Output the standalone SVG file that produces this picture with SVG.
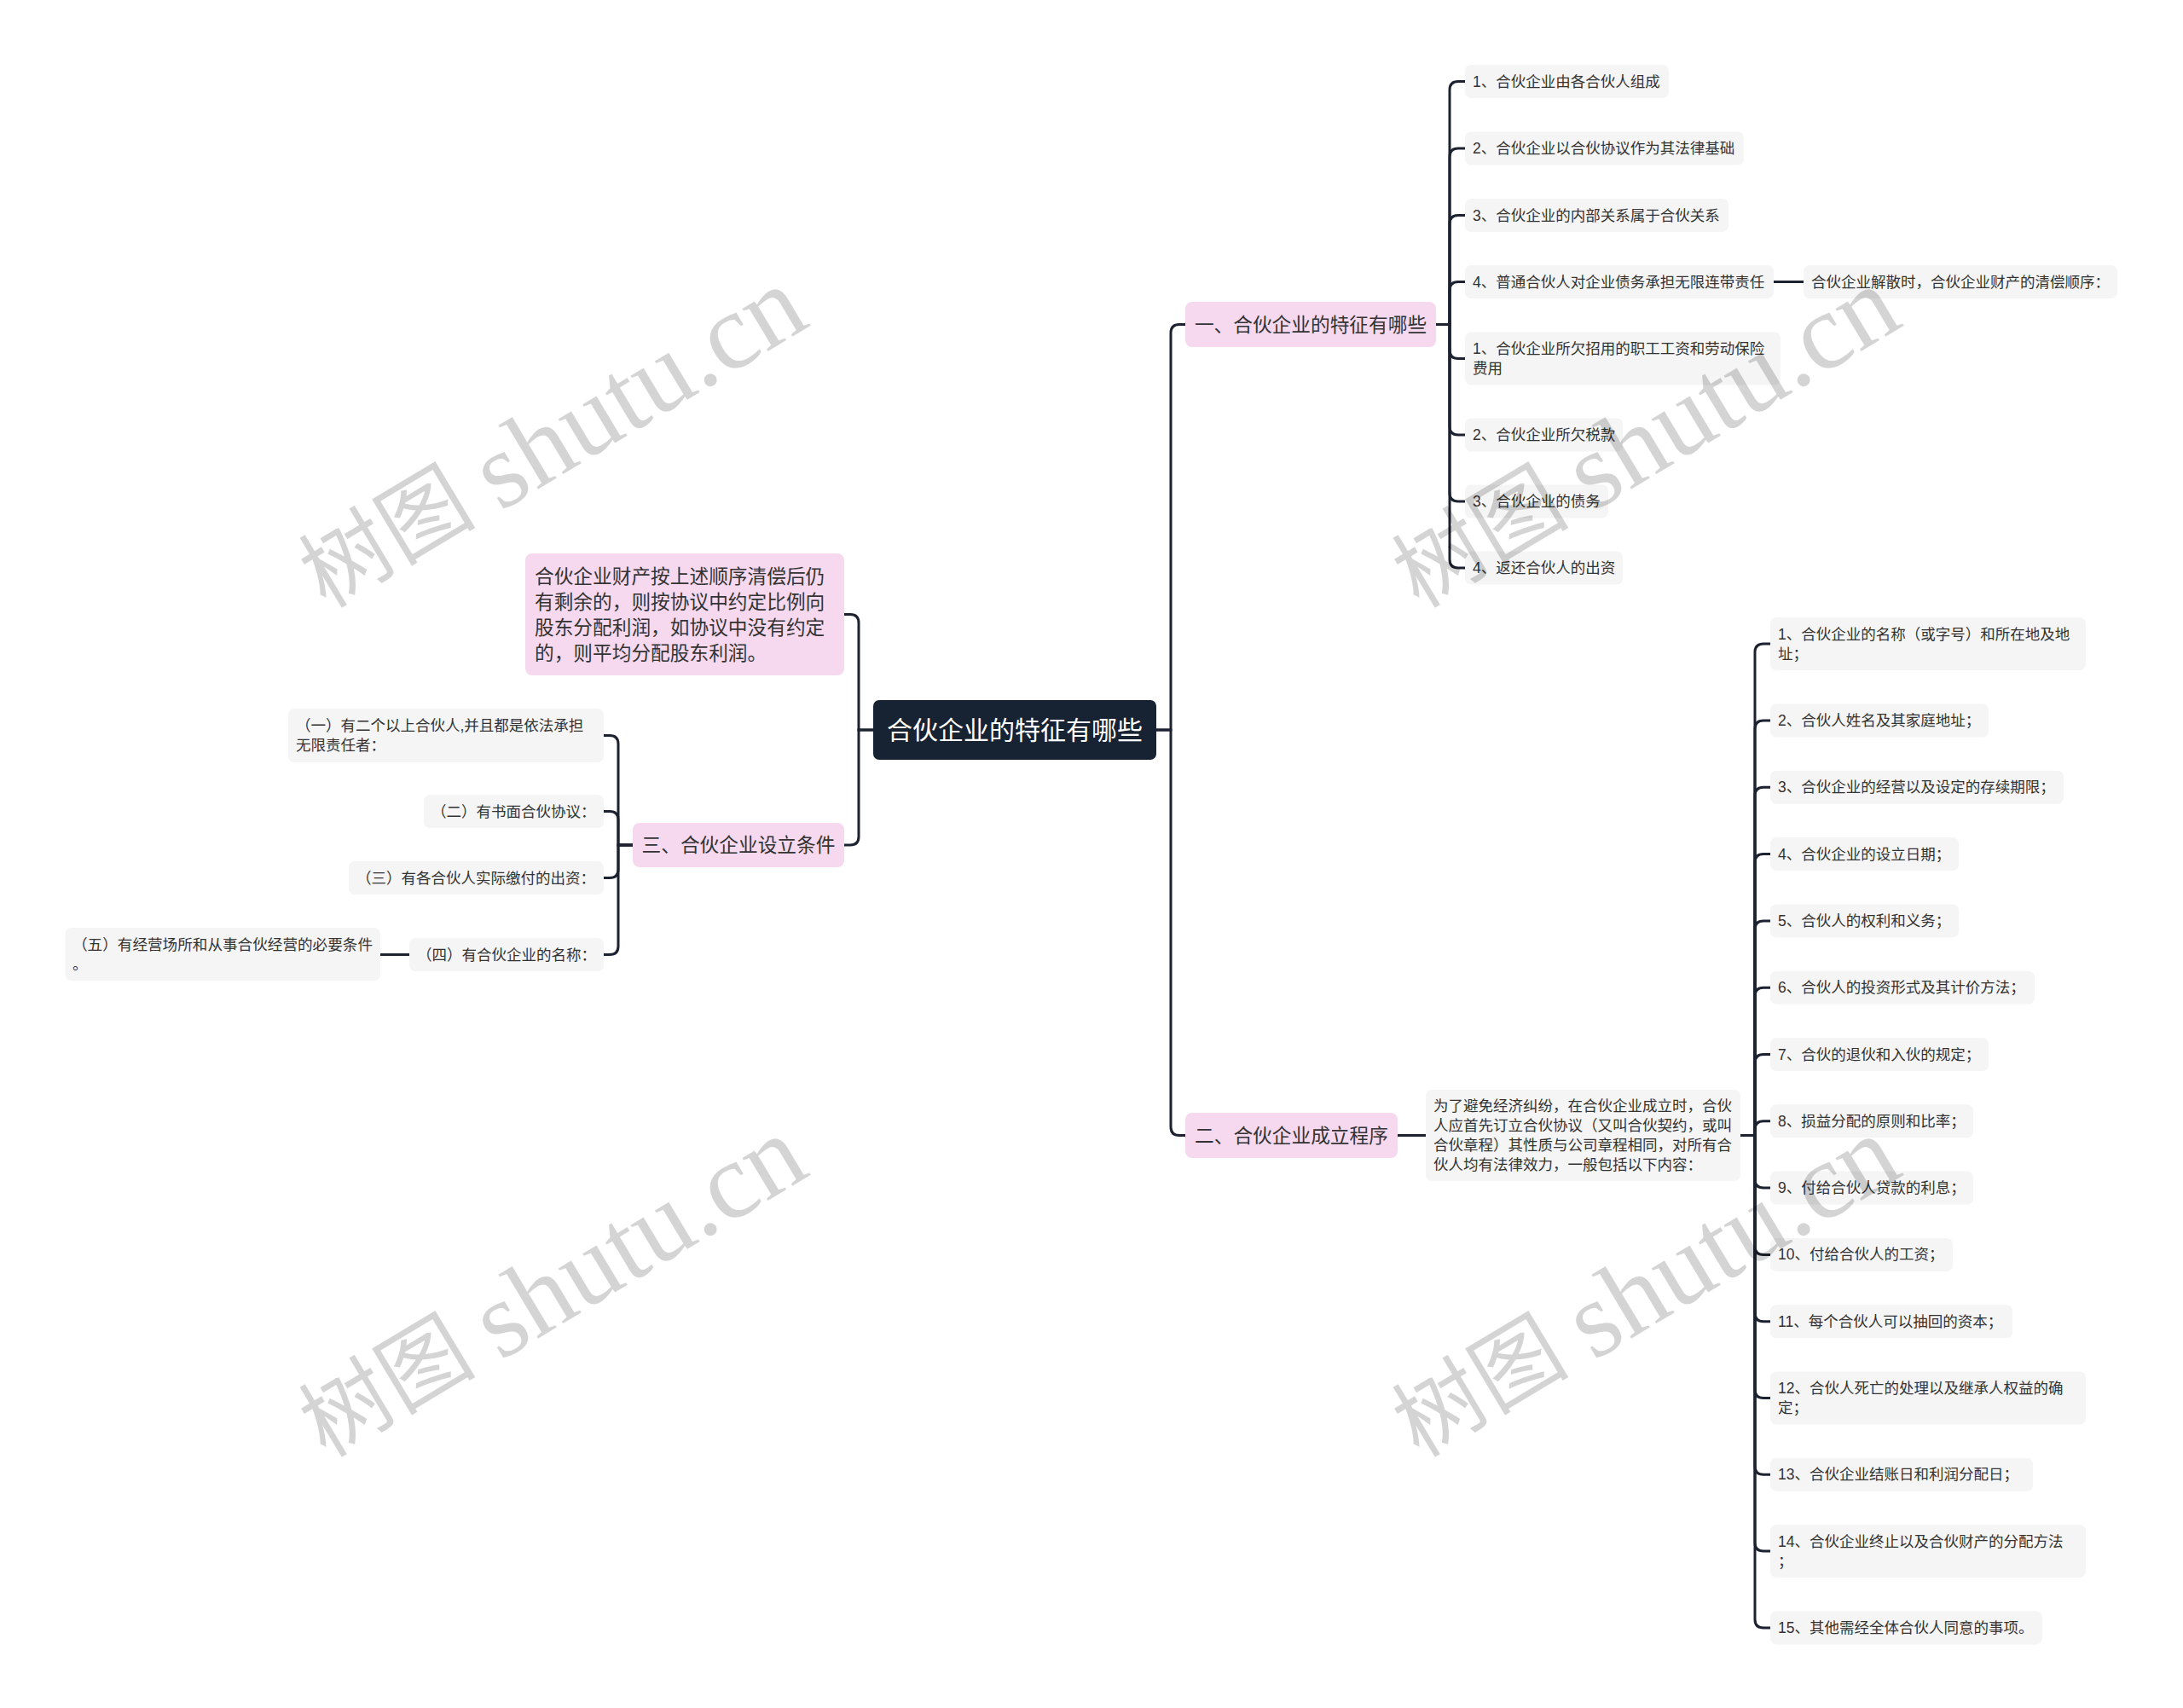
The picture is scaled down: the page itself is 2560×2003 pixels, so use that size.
<svg xmlns="http://www.w3.org/2000/svg" width="2560" height="2003" viewBox="0 0 2560 2003">
<style>
.bg{fill:#ffffff}
.root{fill:#172233}
.pink{fill:#f6d9ef}
.gray{fill:#f5f5f5}
.t{font-family:"Liberation Sans","Noto Sans CJK SC",sans-serif;fill:#333333;dominant-baseline:central}
.rt{font-family:"Liberation Sans","Noto Sans CJK SC",sans-serif;fill:#ffffff;font-size:30px;dominant-baseline:central;text-anchor:middle}
.b{font-size:22.7px}
.c{font-size:17.5px}
.mid{text-anchor:middle}
.conn path{fill:none;stroke:#1d2230;stroke-width:3;stroke-linecap:round}
.wm{font-family:"Liberation Serif","Noto Sans CJK SC",serif;font-size:104px;fill:#000000;fill-opacity:0.17}
.wl{font-size:127px}
</style>
<rect class="bg" x="0" y="0" width="2560" height="2003"/>

<g id="connectors" class="conn">
<path d="M1356 856 H1373 V390.5 Q1373 380.5 1383 380.5 H1390"/>
<path d="M1356 856 H1373 V1321.5 Q1373 1331.5 1383 1331.5 H1390"/>
<path d="M1024 856 H1007 V730.5 Q1007 720.5 997 720.5 H990"/>
<path d="M1024 856 H1007 V981 Q1007 991 997 991 H990"/>
<path d="M1684 380.5 H1700 V105.5 Q1700 95.5 1710 95.5 H1718"/>
<path d="M1684 380.5 H1700 V184 Q1700 174 1710 174 H1718"/>
<path d="M1684 380.5 H1700 V262.5 Q1700 252.5 1710 252.5 H1718"/>
<path d="M1684 380.5 H1700 V340.5 Q1700 330.5 1710 330.5 H1718"/>
<path d="M1684 380.5 H1700 V410.5 Q1700 420.5 1710 420.5 H1718"/>
<path d="M1684 380.5 H1700 V500 Q1700 510 1710 510 H1718"/>
<path d="M1684 380.5 H1700 V578 Q1700 588 1710 588 H1718"/>
<path d="M1684 380.5 H1700 V656 Q1700 666 1710 666 H1718"/>
<path d="M2080 330.5 H2115"/>
<path d="M742 991 H725 V872.5 Q725 862.5 715 862.5 H708"/>
<path d="M742 991 H725 V961.5 Q725 951.5 715 951.5 H708"/>
<path d="M742 991 H725 V1019.5 Q725 1029.5 715 1029.5 H708"/>
<path d="M742 991 H725 V1109.5 Q725 1119.5 715 1119.5 H708"/>
<path d="M480 1119.5 H446"/>
<path d="M1639 1331.5 H1672"/>
<path d="M2041 1331.5 H2058 V765 Q2058 755 2068 755 H2076"/>
<path d="M2041 1331.5 H2058 V855 Q2058 845 2068 845 H2076"/>
<path d="M2041 1331.5 H2058 V933.3 Q2058 923.3 2068 923.3 H2076"/>
<path d="M2041 1331.5 H2058 V1011.6 Q2058 1001.6 2068 1001.6 H2076"/>
<path d="M2041 1331.5 H2058 V1089.9 Q2058 1079.9 2068 1079.9 H2076"/>
<path d="M2041 1331.5 H2058 V1168.2 Q2058 1158.2 2068 1158.2 H2076"/>
<path d="M2041 1331.5 H2058 V1246.5 Q2058 1236.5 2068 1236.5 H2076"/>
<path d="M2041 1331.5 H2058 V1324.8 Q2058 1314.8 2068 1314.8 H2076"/>
<path d="M2041 1331.5 H2058 V1383.1 Q2058 1393.1 2068 1393.1 H2076"/>
<path d="M2041 1331.5 H2058 V1461.4 Q2058 1471.4 2068 1471.4 H2076"/>
<path d="M2041 1331.5 H2058 V1539.7 Q2058 1549.7 2068 1549.7 H2076"/>
<path d="M2041 1331.5 H2058 V1629.5 Q2058 1639.5 2068 1639.5 H2076"/>
<path d="M2041 1331.5 H2058 V1719.3 Q2058 1729.3 2068 1729.3 H2076"/>
<path d="M2041 1331.5 H2058 V1809.1 Q2058 1819.1 2068 1819.1 H2076"/>
<path d="M2041 1331.5 H2058 V1898.9 Q2058 1908.9 2068 1908.9 H2076"/>
</g>

<g id="root">
<rect class="root" x="1024" y="821" width="332" height="70" rx="7"/>
<text class="rt" x="1190" y="856">合伙企业的特征有哪些</text>
</g>

<g id="branch1">
<rect class="pink" x="1390" y="354" width="294" height="53" rx="8"/>
<text class="t b mid" x="1537" y="380.5">一、合伙企业的特征有哪些</text>
</g>
<g id="branch2">
<rect class="pink" x="1390" y="1305" width="249" height="53" rx="8"/>
<text class="t b mid" x="1514.5" y="1331.5">二、合伙企业成立程序</text>
</g>
<g id="branch3">
<rect class="pink" x="742" y="965" width="248" height="52" rx="8"/>
<text class="t b mid" x="866" y="991">三、合伙企业设立条件</text>
</g>
<g id="note-left">
<rect class="pink" x="616" y="649" width="374" height="143" rx="8"/>
<text class="t b" x="627" y="676">合伙企业财产按上述顺序清偿后仍</text>
<text class="t b" x="627" y="706">有剩余的，则按协议中约定比例向</text>
<text class="t b" x="627" y="736">股东分配利润，如协议中没有约定</text>
<text class="t b" x="627" y="766">的，则平均分配股东利润。</text>
</g>

<g id="b1-1"><rect class="gray" x="1718" y="76" width="239" height="39" rx="7"/><text class="t c" x="1727" y="95.5">1、合伙企业由各合伙人组成</text></g>
<g id="b1-2"><rect class="gray" x="1718" y="154.5" width="327" height="39" rx="7"/><text class="t c" x="1727" y="174">2、合伙企业以合伙协议作为其法律基础</text></g>
<g id="b1-3"><rect class="gray" x="1718" y="233" width="309" height="39" rx="7"/><text class="t c" x="1727" y="252.5">3、合伙企业的内部关系属于合伙关系</text></g>
<g id="b1-4"><rect class="gray" x="1718" y="311" width="362" height="39" rx="7"/><text class="t c" x="1727" y="330.5">4、普通合伙人对企业债务承担无限连带责任</text></g>
<g id="b1-4-1"><rect class="gray" x="2115" y="311" width="368" height="39" rx="7"/><text class="t c" x="2124" y="330.5">合伙企业解散时，合伙企业财产的清偿顺序：</text></g>
<g id="b1-5"><rect class="gray" x="1718" y="389.5" width="370" height="62" rx="7"/><text class="t c" x="1727" y="409">1、合伙企业所欠招用的职工工资和劳动保险</text><text class="t c" x="1727" y="432">费用</text></g>
<g id="b1-6"><rect class="gray" x="1718" y="490.5" width="185" height="39" rx="7"/><text class="t c" x="1727" y="510">2、合伙企业所欠税款</text></g>
<g id="b1-7"><rect class="gray" x="1718" y="568.5" width="168" height="39" rx="7"/><text class="t c" x="1727" y="588">3、合伙企业的债务</text></g>
<g id="b1-8"><rect class="gray" x="1718" y="646.5" width="185" height="39" rx="7"/><text class="t c" x="1727" y="666">4、返还合伙人的出资</text></g>

<g id="b2-note"><rect class="gray" x="1672" y="1278" width="369" height="107" rx="7"/>
<text class="t c" x="1681" y="1297">为了避免经济纠纷，在合伙企业成立时，合伙</text>
<text class="t c" x="1681" y="1320">人应首先订立合伙协议（又叫合伙契约，或叫</text>
<text class="t c" x="1681" y="1343">合伙章程）其性质与公司章程相同，对所有合</text>
<text class="t c" x="1681" y="1366">伙人均有法律效力，一般包括以下内容：</text>
</g>

<g id="b2-1"><rect class="gray" x="2076" y="724" width="370" height="62" rx="7"/><text class="t c" x="2085" y="743.5">1、合伙企业的名称（或字号）和所在地及地</text><text class="t c" x="2085" y="766.5">址；</text></g>
<g id="b2-2"><rect class="gray" x="2076" y="825.5" width="256" height="39" rx="7"/><text class="t c" x="2085" y="845">2、合伙人姓名及其家庭地址；</text></g>
<g id="b2-3"><rect class="gray" x="2076" y="903.8" width="344" height="39" rx="7"/><text class="t c" x="2085" y="923.3">3、合伙企业的经营以及设定的存续期限；</text></g>
<g id="b2-4"><rect class="gray" x="2076" y="982.1" width="221" height="39" rx="7"/><text class="t c" x="2085" y="1001.6">4、合伙企业的设立日期；</text></g>
<g id="b2-5"><rect class="gray" x="2076" y="1060.4" width="221" height="39" rx="7"/><text class="t c" x="2085" y="1079.9">5、合伙人的权利和义务；</text></g>
<g id="b2-6"><rect class="gray" x="2076" y="1138.7" width="310" height="39" rx="7"/><text class="t c" x="2085" y="1158.2">6、合伙人的投资形式及其计价方法；</text></g>
<g id="b2-7"><rect class="gray" x="2076" y="1217" width="256" height="39" rx="7"/><text class="t c" x="2085" y="1236.5">7、合伙的退伙和入伙的规定；</text></g>
<g id="b2-8"><rect class="gray" x="2076" y="1295.3" width="238" height="39" rx="7"/><text class="t c" x="2085" y="1314.8">8、损益分配的原则和比率；</text></g>
<g id="b2-9"><rect class="gray" x="2076" y="1373.6" width="238" height="39" rx="7"/><text class="t c" x="2085" y="1393.1">9、付给合伙人贷款的利息；</text></g>
<g id="b2-10"><rect class="gray" x="2076" y="1451.9" width="214" height="39" rx="7"/><text class="t c" x="2085" y="1471.4">10、付给合伙人的工资；</text></g>
<g id="b2-11"><rect class="gray" x="2076" y="1530.2" width="284" height="39" rx="7"/><text class="t c" x="2085" y="1549.7">11、每个合伙人可以抽回的资本；</text></g>
<g id="b2-12"><rect class="gray" x="2076" y="1608.5" width="370" height="62" rx="7"/><text class="t c" x="2085" y="1628">12、合伙人死亡的处理以及继承人权益的确</text><text class="t c" x="2085" y="1651">定；</text></g>
<g id="b2-13"><rect class="gray" x="2076" y="1709.8" width="308" height="39" rx="7"/><text class="t c" x="2085" y="1729.3">13、合伙企业结账日和利润分配日；</text></g>
<g id="b2-14"><rect class="gray" x="2076" y="1788.1" width="370" height="62" rx="7"/><text class="t c" x="2085" y="1807.6">14、合伙企业终止以及合伙财产的分配方法</text><text class="t c" x="2085" y="1830.6">；</text></g>
<g id="b2-15"><rect class="gray" x="2076" y="1889.4" width="319" height="39" rx="7"/><text class="t c" x="2085" y="1908.9">15、其他需经全体合伙人同意的事项。</text></g>

<g id="b3-1"><rect class="gray" x="338" y="831" width="370" height="63" rx="7"/><text class="t c" x="347" y="851">（一）有二个以上合伙人,并且都是依法承担</text><text class="t c" x="347" y="874">无限责任者：</text></g>
<g id="b3-2"><rect class="gray" x="497" y="932" width="211" height="39" rx="7"/><text class="t c" x="506" y="951.5">（二）有书面合伙协议：</text></g>
<g id="b3-3"><rect class="gray" x="409" y="1010" width="299" height="39" rx="7"/><text class="t c" x="418" y="1029.5">（三）有各合伙人实际缴付的出资：</text></g>
<g id="b3-4"><rect class="gray" x="480" y="1100" width="228" height="39" rx="7"/><text class="t c" x="489" y="1119.5">（四）有合伙企业的名称：</text></g>
<g id="b3-5"><rect class="gray" x="76.5" y="1088" width="369.5" height="62" rx="7"/><text class="t c" x="85" y="1108" textLength="352" lengthAdjust="spacingAndGlyphs">（五）有经营场所和从事合伙经营的必要条件</text><text class="t c" x="85" y="1131">。</text></g>

<g id="watermarks">
<text class="wm" transform="translate(647 514) rotate(-31)" text-anchor="middle" dominant-baseline="central">树图 <tspan class="wl">shutu.cn</tspan></text>
<text class="wm" transform="translate(1929 514) rotate(-31)" text-anchor="middle" dominant-baseline="central">树图 <tspan class="wl">shutu.cn</tspan></text>
<text class="wm" transform="translate(647 1510) rotate(-31)" text-anchor="middle" dominant-baseline="central">树图 <tspan class="wl">shutu.cn</tspan></text>
<text class="wm" transform="translate(1929 1510) rotate(-31)" text-anchor="middle" dominant-baseline="central">树图 <tspan class="wl">shutu.cn</tspan></text>
</g>
</svg>
